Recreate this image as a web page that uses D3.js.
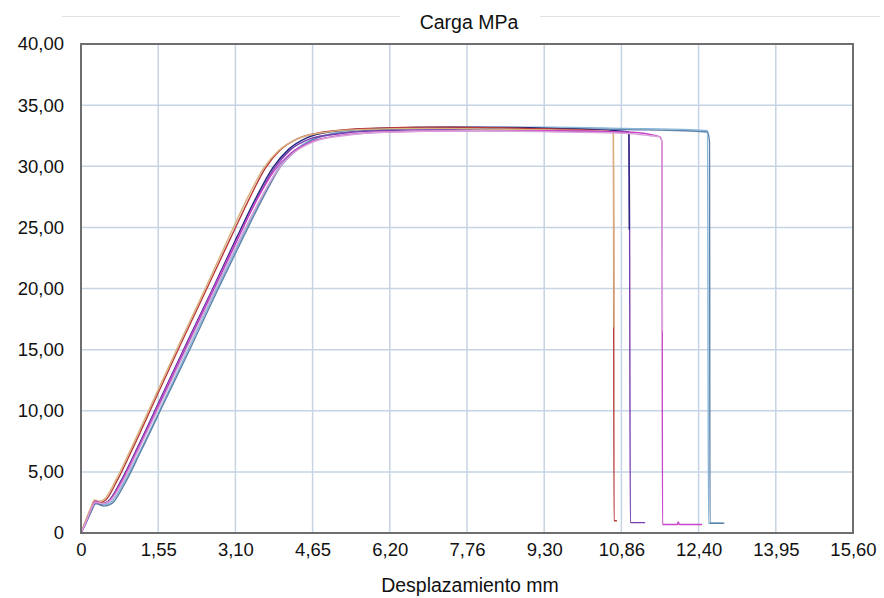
<!DOCTYPE html>
<html>
<head>
<meta charset="utf-8">
<script src="https://cdn.jsdelivr.net/npm/d3@7"></script>
<style>
  body { margin: 0; background: #fff; }
  text { font-family: "Liberation Sans", Arial, sans-serif; fill: #111; }
</style>
</head>
<body>
<svg width="884" height="598"></svg>
<script>
// tick values / labels as printed on the chart
xTicks = [0, 1.56, 3.12, 4.68, 6.24, 7.8, 9.36, 10.92, 12.48, 14.04, 15.6]
xTickLabels = ['0', '1,55', '3,10', '4,65', '6,20', '7,76', '9,30', '10,86', '12,40', '13,95', '15,60']
yTicks = [0, 5, 10, 15, 20, 25, 30, 35, 40]
yTickLabels = ['0', '5,00', '10,00', '15,00', '20,00', '25,00', '30,00', '35,00', '40,00']

// one array per specimen: [desplazamiento mm, carga MPa]
lightBlue = [[0,0],[0.1,0.8],[0.2,1.7],[0.3,2.4],[0.45,2.3],[0.6,2.5],[0.85,4.0],[1.18,6.6],[1.7,11.0],[2.2,15.3],[2.72,19.8],[3.25,24.2],[3.66,27.5],[4.0,29.9],[4.32,31.3],[4.66,32.2],[5.1,32.7],[6.0,33.1],[7.5,33.2],[9.5,33.2],[11.0,33.1],[12.3,33.0],[12.66,32.9],[12.68,0.8],[12.95,0.8]]
steelBlue = [[0,0],[0.1,0.8],[0.2,1.7],[0.3,2.4],[0.46,2.2],[0.62,2.4],[0.88,4.0],[1.2,6.6],[1.72,11.0],[2.22,15.2],[2.74,19.7],[3.28,24.2],[3.7,27.6],[4.02,29.9],[4.35,31.3],[4.7,32.2],[5.2,32.7],[6.1,33.0],[7.6,33.1],[9.5,33.1],[11.0,33.0],[12.2,32.9],[12.66,32.8],[12.7,32.0],[12.71,0.8],[13.0,0.8]]
purple = [[0,0],[0.1,0.9],[0.2,1.9],[0.29,2.5],[0.44,2.4],[0.57,2.6],[0.82,4.1],[1.14,6.7],[1.64,11.0],[2.14,15.3],[2.66,19.7],[3.17,24.1],[3.58,27.5],[3.9,29.8],[4.22,31.3],[4.6,32.2],[5.1,32.6],[6.0,32.9],[7.5,33.0],[9.5,32.9],[10.8,32.8],[11.08,32.7],[11.1,0.85],[11.4,0.85]]
navy = [[0,0],[0.1,0.9],[0.2,1.9],[0.29,2.5],[0.42,2.4],[0.55,2.6],[0.8,4.2],[1.12,6.8],[1.62,11.1],[2.12,15.4],[2.64,19.8],[3.15,24.2],[3.56,27.6],[3.88,29.9],[4.2,31.4],[4.55,32.3],[5.0,32.8],[6.0,33.1],[7.5,33.2],[9.5,33.1],[10.8,32.9],[11.07,32.8],[11.08,24.8]]
red = [[0,0],[0.1,1.0],[0.2,2.0],[0.28,2.6],[0.4,2.5],[0.5,2.7],[0.72,4.2],[1.02,6.7],[1.52,11.1],[2.02,15.5],[2.52,19.8],[3.02,24.1],[3.42,27.5],[3.72,29.8],[4.02,31.3],[4.4,32.3],[4.9,32.8],[5.8,33.1],[7.2,33.2],[9.0,33.1],[10.5,32.9],[10.76,32.8],[10.77,1.0],[10.83,1.0]]
tan = [[0,0],[0.1,1.1],[0.2,2.1],[0.27,2.7],[0.38,2.6],[0.48,2.8],[0.7,4.3],[1.0,6.8],[1.5,11.2],[2.0,15.6],[2.5,19.9],[3.0,24.3],[3.4,27.7],[3.7,29.9],[4.0,31.3],[4.35,32.2],[4.8,32.7],[5.6,33.0],[7.0,33.1],[9.0,33.0],[10.5,32.9],[10.76,32.8],[10.77,16.8]]
magenta = [[0,0],[0.1,0.9],[0.2,1.9],[0.29,2.6],[0.43,2.4],[0.56,2.6],[0.8,4.1],[1.12,6.7],[1.62,11.0],[2.12,15.3],[2.64,19.7],[3.15,24.0],[3.56,27.3],[3.9,29.6],[4.25,31.1],[4.65,32.0],[5.2,32.5],[6.2,32.8],[7.8,32.9],[9.5,32.9],[11.0,32.8],[11.5,32.6],[11.7,32.4],[11.74,32.0],[11.75,0.7],[12.05,0.7],[12.07,0.9],[12.09,0.7],[12.55,0.7]]
pink = [[0,0],[0.1,0.9],[0.2,1.9],[0.29,2.5],[0.44,2.4],[0.58,2.6],[0.83,4.1],[1.15,6.7],[1.66,11.0],[2.16,15.3],[2.68,19.7],[3.2,24.0],[3.62,27.3],[3.96,29.6],[4.3,31.1],[4.7,32.0],[5.3,32.5],[6.3,32.8],[8.0,32.9],[9.8,32.8],[11.0,32.7],[11.5,32.5],[11.7,32.4],[11.74,32.0],[11.75,16.5]]

// drawing order matters: the lighter pieces sit on top of the drop lines
series = [
    {name: 'lightBlue', values: lightBlue, color: '#86b6da'},
    {name: 'steelBlue', values: steelBlue, color: '#5f83a8'},
    {name: 'purple', values: purple, color: '#7a3fae'},
    {name: 'navy', values: navy, color: '#24247e'},
    {name: 'red', values: red, color: '#b83a3a'},
    {name: 'tan', values: tan, color: '#d8b07c'},
    {name: 'magenta', values: magenta, color: '#c844c8'},
    {name: 'pink', values: pink, color: '#d9a2d9'}
]

let svg = d3.select('svg')
let margin = {top: 44, right: 31, bottom: 65, left: 81}
let width = +svg.attr('width') - margin.left - margin.right,
    height = +svg.attr('height') - margin.top - margin.bottom
let fontSize = '18.5px'

let x = d3.scaleLinear().domain([0, 15.6]).range([0, width])
let y = d3.scaleLinear().domain([0, 40]).range([height, 0])

// title with the thin rule either side
svg.append('line').attr('x1', 62).attr('x2', 400).attr('y1', 16.5).attr('y2', 16.5)
    .style('stroke', '#e2e2e2').style('stroke-width', 1)
svg.append('line').attr('x1', 540).attr('x2', 880).attr('y1', 16.5).attr('y2', 16.5)
    .style('stroke', '#e2e2e2').style('stroke-width', 1)
svg.append('text').attr('x', 469).attr('y', 29).attr('text-anchor', 'middle')
    .attr('font-size', '19.5px').text('Carga MPa')

let g = svg.append('g').attr('transform', `translate(${margin.left},${margin.top})`)

// grid
g.append('g').selectAll('line').data(xTicks.slice(1, -1)).enter().append('line')
    .attr('x1', d => x(d)).attr('x2', d => x(d)).attr('y1', 0).attr('y2', height)
    .style('stroke', '#c6d4e3').style('stroke-width', 1.5)
g.append('g').selectAll('line').data(yTicks.slice(1, -1)).enter().append('line')
    .attr('x1', 0).attr('x2', width).attr('y1', d => y(d)).attr('y2', d => y(d))
    .style('stroke', '#c6d4e3').style('stroke-width', 1.5)

// axes (labels only, frame drawn separately)
let xAxis = g.append('g').attr('transform', `translate(0,${height})`)
    .call(d3.axisBottom(x).tickValues(xTicks).tickFormat((d, i) => xTickLabels[i]).tickSize(0).tickPadding(10))
let yAxis = g.append('g')
    .call(d3.axisLeft(y).tickValues(yTicks).tickFormat((d, i) => yTickLabels[i]).tickSize(0).tickPadding(17))
;[xAxis, yAxis].forEach(a => {
    a.select('.domain').remove()
    a.selectAll('text').attr('font-size', fontSize).attr('font-family', '"Liberation Sans", Arial, sans-serif').style('fill', '#111')
})

let line = d3.line().x(d => x(d[0])).y(d => y(d[1])).curve(d3.curveMonotoneX)

g.append('g').selectAll('path').data(series).enter().append('path')
    .attr('d', d => line(d.values))
    .style('fill', 'none')
    .style('stroke', d => d.color)
    .style('stroke-width', 1.4)
    .style('stroke-linejoin', 'round')

// frame
g.append('rect').attr('x', 0).attr('y', 0).attr('width', width).attr('height', height)
    .style('fill', 'none').style('stroke', '#6e6e6e').style('stroke-width', 2)

svg.append('text').attr('x', 470).attr('y', 592).attr('text-anchor', 'middle')
    .attr('font-size', '19.5px').text('Desplazamiento mm')
</script>
</body>
</html>
